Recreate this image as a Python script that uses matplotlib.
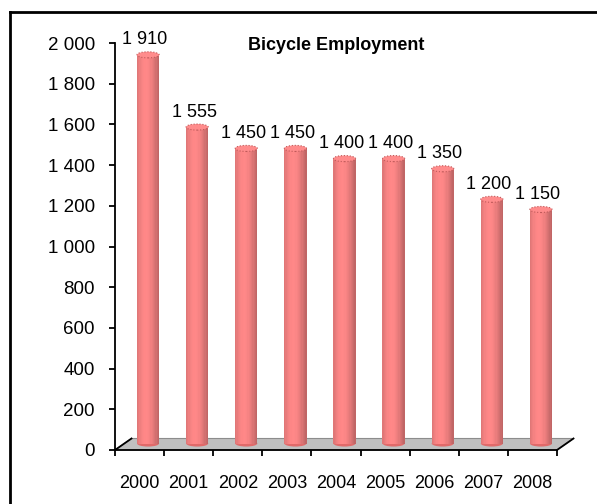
import numpy as np
import matplotlib
matplotlib.use('Agg')
import matplotlib.pyplot as plt
from matplotlib.patches import Ellipse, Polygon
from matplotlib.transforms import ScaledTranslation

# data
years = ['2000', '2001', '2002', '2003', '2004', '2005', '2006', '2007', '2008']
employment = [1910, 1555, 1450, 1450, 1400, 1400, 1350, 1200, 1150]
yticks = [0, 200, 400, 600, 800, 1000, 1200, 1400, 1600, 1800, 2000]

def spaced(v):
    return f'{v:,}'.replace(',', ' ')

plt.rcParams['font.family'] = ['Liberation Sans', 'DejaVu Sans']

fig = plt.figure(figsize=(5.97, 5.04), dpi=100)
ax = fig.add_axes([115 / 597, 54 / 504, 442 / 597, 407 / 504])
ax.set_xlim(-0.5, len(years) - 0.5)
ax.set_ylim(0, 2000)

x = np.arange(len(years))

# 3d look: bars sit half way into the floor
shift = ax.transData + ScaledTranslation(0.085, 0.065, fig.dpi_scale_trans)
depth_x, depth_y = 0.336, 56.5

floor = Polygon([(-0.5, 0), (8.5, 0), (8.5 + depth_x, depth_y), (-0.5 + depth_x, depth_y)],
                closed=True, facecolor='#c0c0c0', edgecolor='#8c8c8c', linewidth=0.8,
                clip_on=False, zorder=1)
ax.add_patch(floor)
ax.plot([-0.5, -0.5 + depth_x], [0, depth_y], color='k', lw=1.3, clip_on=False, zorder=2)
ax.plot([8.5, 8.5 + depth_x], [0, depth_y], color='k', lw=1.3, clip_on=False, zorder=2)

# cylinder shading made of thin strips
bar_w = 0.45
n = 18
light = np.array([1.0, 0.56, 0.56])
for i, v in enumerate(employment):
    ax.add_patch(Ellipse((x[i], 0), bar_w, 30, transform=shift, facecolor='#e06a6a',
                         edgecolor='none', zorder=3, clip_on=False))
for k in range(n):
    u = (k + 0.5) / n
    f = 0.80 + 0.20 * np.cos((u - 0.4) * np.pi)
    col = np.clip(light * np.array([f, f * 0.95, f * 0.95]), 0, 1)
    ax.bar(x - bar_w / 2 + u * bar_w, employment, width=bar_w / n * 1.15, color=col,
           linewidth=0, transform=shift, zorder=4, clip_on=False)
for i, v in enumerate(employment):
    ax.add_patch(Ellipse((x[i], v), bar_w, 30, transform=shift, facecolor='#ff8c8c',
                         edgecolor='#c05a5a', linewidth=0.8, linestyle=':', zorder=5,
                         clip_on=False))

for i, v in enumerate(employment):
    ax.annotate(spaced(v), (x[i], v), xytext=(4, 12.2), textcoords='offset points',
                ha='center', va='baseline', fontsize=13, zorder=6)

ax.set_yticks(yticks)
ax.set_yticklabels([spaced(t) for t in yticks], fontsize=13.5)
ax.set_xticks(x)
ax.set_xticklabels(years, fontsize=13)
ax.set_xticks(np.arange(-0.5, len(years)), minor=True)
ax.tick_params(axis='y', direction='out', length=4, width=1.3, pad=10.5)
ax.tick_params(axis='x', which='major', length=0, pad=18)
ax.tick_params(axis='x', which='minor', direction='out', length=4.5, width=1.3)

for s in ['top', 'right']:
    ax.spines[s].set_visible(False)
for s in ['left', 'bottom']:
    ax.spines[s].set_linewidth(1.3)
    ax.spines[s].set_zorder(7)

fig.text(336 / 597, 1 - 50 / 504, 'Bicycle Employment', ha='center', va='baseline',
         fontsize=13, fontweight='bold')

# chart frame (only top and left edges show)
fig.add_artist(plt.Line2D([10 / 597, 10 / 597], [0, 1 - 12 / 504], color='k', lw=2,
                          transform=fig.transFigure))
fig.add_artist(plt.Line2D([10 / 597, 1], [1 - 12 / 504, 1 - 12 / 504], color='k', lw=2,
                          transform=fig.transFigure))

fig.savefig('out.png', dpi=100)
